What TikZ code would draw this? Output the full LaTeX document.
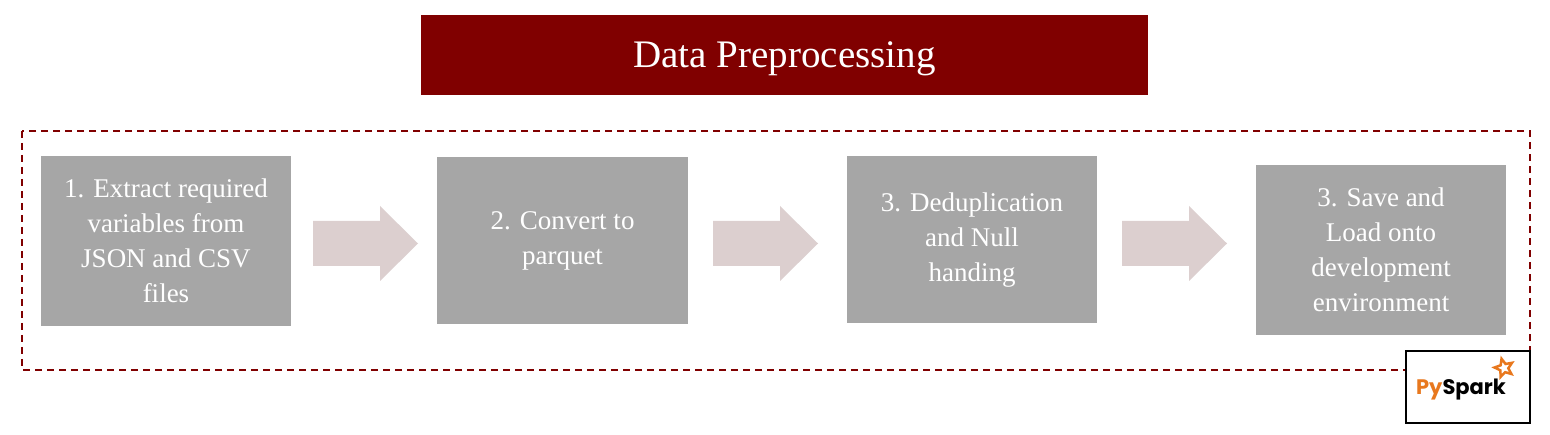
\documentclass[tikz,border=0pt]{standalone}
\usepackage{fontspec}
\setmainfont{Liberation Serif}
\newfontfamily\logofont{Poppins}
\usetikzlibrary{shapes.geometric}
\definecolor{maroon}{HTML}{800000}
\definecolor{boxgray}{HTML}{A6A6A6}
\definecolor{arrowc}{HTML}{DCCFCF}
\definecolor{sparkorange}{HTML}{E8781E}
\begin{document}
\begin{tikzpicture}[x=1pt,y=-1pt,
  stepbox/.style={fill=boxgray,text=white,align=center,font=\fontsize{27}{35}\selectfont,inner sep=0pt},
  arr/.style={fill=arrowc,draw=none}]
\useasboundingbox (0,0) rectangle (1550,435);
\node[fill=maroon,minimum width=727pt,minimum height=80pt] (title) at (784.5,55) {};
\node[text=white,font=\fontsize{39}{42}\selectfont] (titletext) at (784.5,59) {Data Preprocessing};
\draw[maroon,line width=2.5pt,dash pattern=on 7pt off 5pt] (22,131) rectangle (1530,370);
\node[stepbox,minimum width=250pt,minimum height=170pt] (s1) at (166,241) {1. Extract required\\variables from\\JSON and CSV\\files};
\node[stepbox,minimum width=251pt,minimum height=167pt] (s2) at (562.5,241) {2. Convert to\\parquet};
\node[stepbox,minimum width=250pt,minimum height=167pt] (s3) at (972,240) {3. Deduplication\\and Null\\handing};
\node[stepbox,minimum width=250pt,minimum height=170pt] (s4) at (1381,250) {3. Save and\\Load onto\\development\\environment};
\foreach \a in {313,713,1122}{
  \fill[arr] (\a,221) -- (\a+67,221) -- (\a+67,206) -- (\a+105,243.5) -- (\a+67,281) -- (\a+67,266) -- (\a,266) -- cycle;
}
\node[draw=black,line width=2pt,fill=white,minimum width=124pt,minimum height=72pt,inner sep=0pt] (logo) at (1468,387) {};
\node[font=\logofont\fontsize{21}{22}\selectfont\bfseries,inner sep=0pt] (logotext) at (1461,390) {\textcolor{sparkorange}{Py}Spark};
\node[star,star points=5,star point ratio=2.2,draw=sparkorange,line width=2.5pt,minimum size=19pt,inner sep=0pt,rotate=15] (logostar) at (1504,368) {};
\end{tikzpicture}
\end{document}
